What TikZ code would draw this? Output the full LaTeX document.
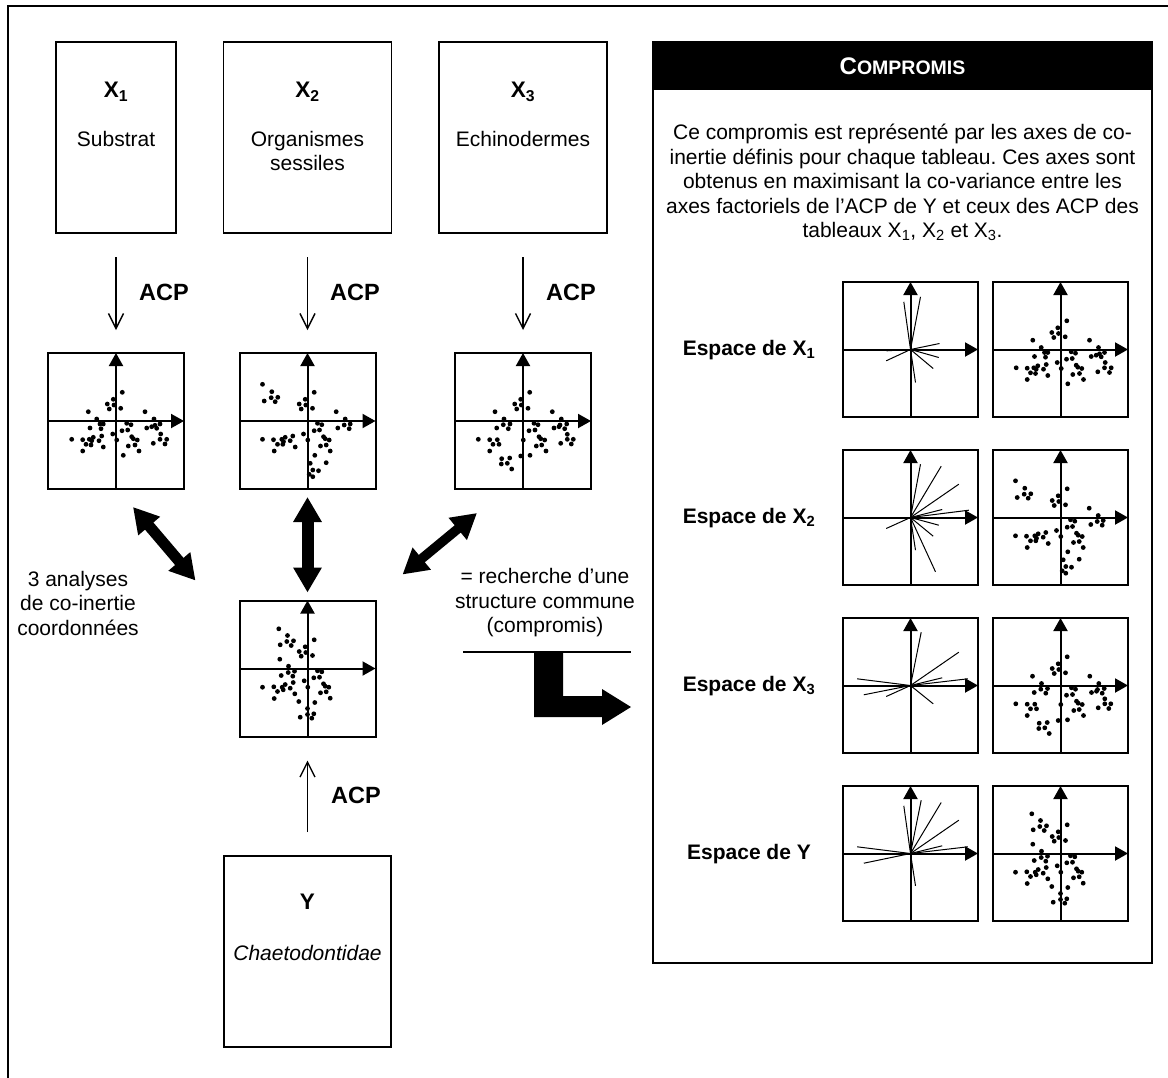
\documentclass[tikz,border=0pt]{standalone}
\usepackage{fontspec}
\setmainfont{Liberation Sans}
\usetikzlibrary{arrows.meta,calc}
\frenchspacing

\def\dotsA{6.3/28.7, -2.7/21.7, -8.7/17, -2/16, -6.7/12, 4.7/12.7, -27.7/9.3, 29/9.3, -19.3/2, 38/2, -16/-3, -12.7/-3, -26/-7, -15/-7.7, 10.7/-2.3, 15/-3.7, 11.7/-9, 6/-9.7, 30.7/-7, 35.7/-5.7, 39/-4.3, 44/-3, 40.7/-7.3, -3.3/-13, -22.7/-16.3, -14.3/-15, 15.7/-15.7, 17.3/-17.7, 21.3/-19, 44.7/-13, -44.3/-18.3, -33.3/-18.7, -26.7/-18.3, -24.3/-19.7, -17/-19.7, -30/-23.3, -25/-24, 0.7/-19, 44/-18.3, 50.7/-18.3, 37.3/-22.3, 49/-23, 12.3/-25, 19/-24, -12.7/-26, -33.3/-30, 23/-30, 7.3/-34.3}
\def\dotsB{-45/36.7, -35.7/29.3, -36.3/23.3, -29.7/23.7, -43.3/20, -32.3/19.3, 6.7/28.7, -2.3/21.7, -8.3/17, -1.7/16, -6.3/12, 5/12.7, 28.7/9.3, 37.7/2, 36.7/-4, 30.3/-7, 42.7/-3, 41.7/-7.7, 10/-2.3, 14.3/-3.7, 12/-9, 6.7/-9.7, -4/-13, 0.3/-19, -45/-18.3, -34/-18.7, -25.7/-18.3, -22.3/-16.3, -14.7/-15, -24/-20.7, -30/-23.3, -24.7/-23.3, -17.3/-19.7, -33.3/-30, -12.3/-26, 16/-15.7, 17.7/-17.7, 21.7/-19, 13/-25, 18.7/-24, 22.7/-30, 7.3/-34.3, 2.7/-42.3, 18.7/-41.7, 5.3/-49, 11/-49.7, 1.7/-53.3, 5.3/-55.7}
\def\dotsC{6.7/28.7, -2.3/21.7, -8.3/17, -1.7/16, -6.3/12, 5/12.7, -28/9.3, 29.3/9.3, -19/2, 38.3/2, -19.7/-3.7, -13/-3, -26.3/-7, -14.7/-7.7, 11/-2.3, 15/-3.7, 12/-9, 6/-9.7, 31/-7, 36/-5.7, 37/-4, 43.7/-3, 41.7/-7.7, 44.3/-13.3, 0.3/-19, -44.7/-18.3, -33.3/-18.7, -25.7/-18.7, -30/-23.3, -24/-23.3, -33.3/-30, 16/-15.7, 17.7/-17.7, 21.7/-19, 13.3/-25, 18.7/-24, 23/-30, 44.3/-18.3, 50.3/-18.3, 37.7/-22.3, 48.3/-23, -2.3/-35, 7/-34.3, -21.3/-37.7, -13.3/-37, -21.7/-43, -15.7/-42.3, -11.3/-48}
\def\dotsD{-28.7/39.7, -20/33, -20.7/27, -14/27.7, -16.3/23, -27.3/23.7, 6.7/28.7, -2.3/21.7, -8.3/17, -1.7/16, -6.3/12.3, 5/13, -27.7/9.3, -19/2.3, 10/-2.3, 14.3/-3.3, -13/-2.7, -19.3/-4, -26.3/-7, -14.7/-7.7, 12/-8.7, 6.3/-9.3, -3.3/-12.3, -14.3/-14, 16/-15.3, 17.7/-17.7, 21.3/-18.7, 0.3/-18.7, -45/-18.7, -33.7/-18.3, -22.3/-16, -25.3/-18.7, -24.3/-21.3, -30/-23, -17.3/-19.7, -12.7/-25.3, -33.3/-30, 13/-24.3, 18.7/-23.3, 22.7/-29.7, -8.7/-33, 7.3/-34, 0/-40, 0/-46, 6.3/-45.3, -7.3/-48.7, 4.3/-49.7}

\def\raysA{-6.7/47.7, 10/52.7, 29/6, 28.3/-8, 22.7/-19, 5/-33, -24.3/-11.3, -24/-1.3}
\def\raysB{10/53.3, 30.7/51.3, 48.3/33.3, 31.7/8, 58.3/7.3, 28.3/-7.7, 22.7/-18.7, 25/-54.3, 5/-32.7, -24/-1, -24.3/-11}
\def\raysC{10.7/53.3, 48.3/33.3, 31.7/7.7, 57.3/6.7, 22.7/-18.3, -53.3/6.7, -46.7/-9.3, -24.3/-11}
\def\raysD{-6.7/47.7, 10.7/53.3, 30.7/51, 48.3/33.3, 31.7/7.7, 57.3/6.7, -53.3/6.7, -46.7/-9.7, 5/-32.3}

\tikzset{
  tabbox/.style={draw, line width=1.6pt, inner sep=0pt, outer sep=0pt, minimum height=191pt},
  plotbox/.style={draw, line width=2pt, minimum width=136pt, minimum height=136pt, inner sep=0pt, outer sep=0pt},
  smallplot/.style={draw, line width=2pt, minimum width=135pt, minimum height=135pt, inner sep=0pt, outer sep=0pt},
  axisarrow/.style={line width=2pt, -{Triangle[width=14pt,length=13pt]}},
  acparrow/.style={line width=1.4pt, -{Straight Barb[width=15pt,length=15pt]}, shorten <=24pt, shorten >=23pt},
  dblarrow/.style={line width=#1, {Triangle[width=27pt,length=25pt]}-{Triangle[width=27pt,length=25pt]}},
  txt/.style={font=\fontsize{21}{24.5}\selectfont, align=center, inner sep=0pt},
  boldtxt/.style={font=\fontsize{21}{24.5}\selectfont\bfseries, align=center, inner sep=0pt},
  headtxt/.style={font=\fontsize{22.5}{24.5}\selectfont\bfseries, align=center, inner sep=0pt},
  acptxt/.style={font=\fontsize{23.5}{26}\selectfont\bfseries, inner sep=0pt},
  ray/.style={line width=1pt}
}

\newcommand\myscatter[2]{%
  \draw[axisarrow] (#1.south) -- (#1.north);
  \draw[axisarrow] (#1.west) -- (#1.east);
  \begin{scope}[shift={(#1.center)}, yscale=-1]
    \foreach \dx/\dy in #2 {\fill (\dx,\dy) circle[radius=2.4pt];}
  \end{scope}}
\newcommand\myrays[2]{%
  \begin{scope}[shift={(#1.center)}, yscale=-1]
    \foreach \dx/\dy in #2 {\draw[ray] (0,0) -- (\dx,\dy);}
  \end{scope}
  \draw[axisarrow] (#1.south) -- (#1.north);
  \draw[axisarrow] (#1.west) -- (#1.east);}

\begin{document}
\begin{tikzpicture}[x=1pt, y=-1pt]
\useasboundingbox (0,0) rectangle (1168,1077);
\fill[white] (0,0) rectangle (1168,1077);
% outer frame
\draw[line width=2.2pt] (1175,6) -- (8,6) -- (8,1085);

% data tables
\node[tabbox, minimum width=120pt] (x1) at (116,137.5) {};
\node[tabbox, minimum width=168pt] (x2) at (307.5,137.5) {};
\node[tabbox, minimum width=168pt] (x3) at (523,137.5) {};
\node[tabbox, minimum width=167pt] (yt) at (307.5,951.5) {};

\node[headtxt] (x1l) at (116,92) {X\textsubscript{1}};
\node[txt] (x1n) at (116,139) {Substrat};
\node[headtxt] (x2l) at (307.5,92) {X\textsubscript{2}};
\node[txt] (x2n) at (307.5,151) {Organismes\\sessiles};
\node[headtxt] (x3l) at (523,92) {X\textsubscript{3}};
\node[txt] (x3n) at (523,139) {Echinodermes};
\node[headtxt] (yl) at (307.5,902) {Y};
\node[txt] (yn) at (307.5,953) {\itshape Chaetodontidae};

% scatter plots
\node[plotbox] (s1) at (116,421) {};
\node[plotbox] (s2) at (307.5,421) {};
\node[plotbox] (s3) at (523,421) {};
\node[plotbox] (sy) at (307.5,668.5) {};
\myscatter{s1}{\dotsA}
\myscatter{s2}{\dotsB}
\myscatter{s3}{\dotsC}
\myscatter{sy}{\dotsD}

% ACP arrows
\draw[acparrow] (x1) -- (s1);
\draw[acparrow] (x2) -- (s2);
\draw[acparrow] (x3) -- (s3);
\draw[acparrow, shorten >=24pt] (yt) -- (sy);
\node[acptxt] (a1) at (164,292) {ACP};
\node[acptxt] (a2) at (355,292) {ACP};
\node[acptxt] (a3) at (571,292) {ACP};
\node[acptxt] (a4) at (356,795) {ACP};

% co-inertia double arrows
\draw[dblarrow=11pt] ($(s1.south)+(17,18)$) -- ($(sy.north west)+(-44,-20)$);
\draw[dblarrow=12pt, shorten <=8pt, shorten >=8pt] (s2) -- (sy);
\draw[dblarrow=9.5pt] ($(s3.south)+(-46,24)$) -- ($(sy.north east)+(27,-26)$);

\node[txt] (lefttxt) at (78,603) {3 analyses\\de co-inertie\\coordonnées};
\node[txt] (righttxt) at (545,603) {= recherche d’une\\structure commune\\(compromis)};

% L-shaped block arrow
\draw[line width=1.4pt] (463,652) -- (631,652);
\fill (534,652) -- (563,652) -- (563,696) -- (602,696) -- (602,689) -- (631,707)
  -- (602,725) -- (602,717) -- (534,717) -- cycle;

% compromis panel
\node[draw, line width=2pt, minimum width=499pt, minimum height=921pt, inner sep=0pt, outer sep=0pt] (panel) at (902.5,502.5) {};
\fill (panel.north west) rectangle ($(panel.north east)+(0,48)$);
\node[inner sep=0pt, text=white, font=\bfseries] (ptitle) at (902.5,66)
  {{\fontsize{24}{24}\selectfont C}{\fontsize{19.5}{24}\selectfont OMPROMIS}};
\node[txt] (ptext) at (902.5,182.5) {Ce compromis est représenté par les axes de co-\\inertie définis pour chaque tableau. Ces axes sont\\obtenus en maximisant la co-variance entre les\\axes factoriels de l’ACP de Y et ceux des ACP des\\tableaux X\textsubscript{1}, X\textsubscript{2} et X\textsubscript{3}.};

\node[boldtxt] (e1) at (749,350) {Espace de X\textsubscript{1}};
\node[boldtxt] (e2) at (749,518) {Espace de X\textsubscript{2}};
\node[boldtxt] (e3) at (749,686) {Espace de X\textsubscript{3}};
\node[boldtxt] (e4) at (749,854) {Espace de Y};

\node[smallplot] (r1) at (910.5,349.5) {};
\node[smallplot] (q1) at (1060.5,349.5) {};
\node[smallplot] (r2) at (910.5,517.5) {};
\node[smallplot] (q2) at (1060.5,517.5) {};
\node[smallplot] (r3) at (910.5,685.5) {};
\node[smallplot] (q3) at (1060.5,685.5) {};
\node[smallplot] (r4) at (910.5,853.5) {};
\node[smallplot] (q4) at (1060.5,853.5) {};
\myrays{r1}{\raysA}
\myrays{r2}{\raysB}
\myrays{r3}{\raysC}
\myrays{r4}{\raysD}
\myscatter{q1}{\dotsA}
\myscatter{q2}{\dotsB}
\myscatter{q3}{\dotsC}
\myscatter{q4}{\dotsD}
\end{tikzpicture}
\end{document}
